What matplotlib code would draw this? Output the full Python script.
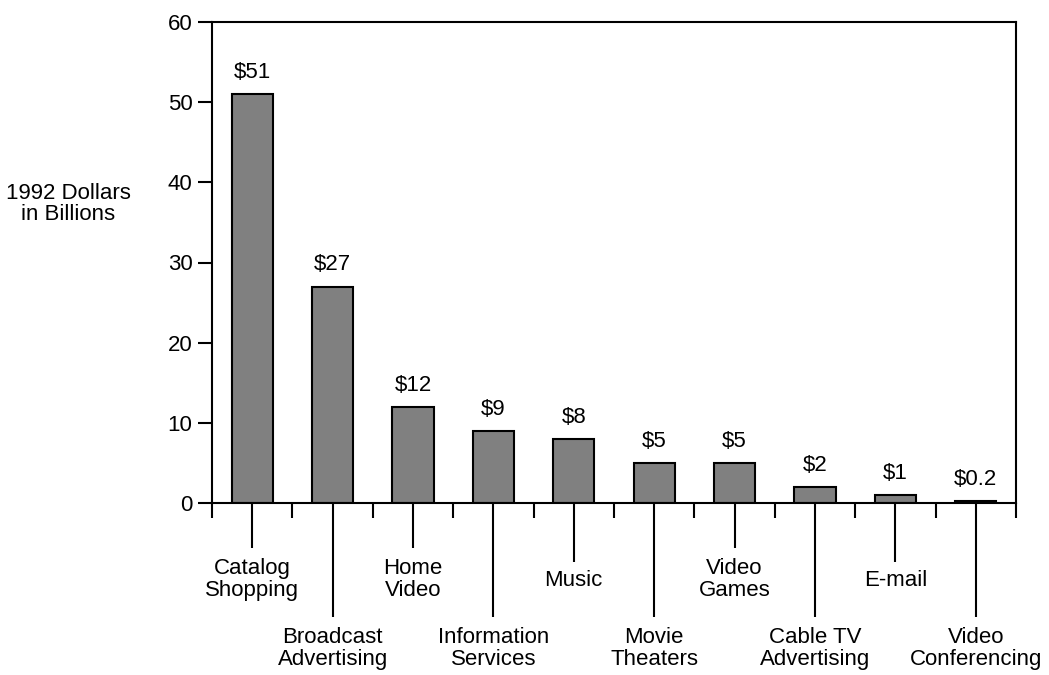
import matplotlib

matplotlib.use("Agg")
import matplotlib.pyplot as plt
import numpy as np

# --- data ---
categories = [
    "Catalog\nShopping",
    "Broadcast\nAdvertising",
    "Home\nVideo",
    "Information\nServices",
    "Music",
    "Movie\nTheaters",
    "Video\nGames",
    "Cable TV\nAdvertising",
    "E-mail",
    "Video\nConferencing",
]
values = [51, 27, 12, 9, 8, 5, 5, 2, 1, 0.2]
value_labels = ["$51", "$27", "$12", "$9", "$8", "$5", "$5", "$2", "$1", "$0.2"]
y_ticks = [0, 10, 20, 30, 40, 50, 60]

plt.rcParams["font.family"] = ["Liberation Sans", "DejaVu Sans"]
FS = 16

W, H, DPI = 1049, 675, 100
fig = plt.figure(figsize=(W / DPI, H / DPI), dpi=DPI)
ax = fig.add_axes([212 / W, 1 - 503 / H, (1016 - 212) / W, (503 - 22) / H])
ax_h = 503 - 22  # axes height in px

x = np.arange(len(categories))
ax.bar(x, values, width=0.51, color="#808080", edgecolor="black", linewidth=1.5)

for xi, v, lab in zip(x, values, value_labels):
    ax.annotate(lab, (xi, v), xytext=(0, 8), textcoords="offset points",
                ha="center", va="bottom", fontsize=FS)

ax.set_xlim(-0.5, len(categories) - 0.5)
ax.set_ylim(0, 60)
ax.set_yticks(y_ticks)
ax.tick_params(axis="y", direction="out", length=10, width=1.5, pad=4, labelsize=FS)

# boundary ticks below the axis, labels placed by hand
ax.set_xticks(np.arange(len(categories) + 1) - 0.5)
ax.set_xticklabels([])
ax.tick_params(axis="x", direction="out", length=11, width=1.5)

for s in ax.spines.values():
    s.set_linewidth(1.5)

# leader lines and category labels
tr = ax.get_xaxis_transform()
for i, name in enumerate(categories):
    single = "\n" not in name
    if i % 2 == 1:
        end_px, text_px, va = 114, 124, "top"
    elif single:
        end_px, text_px, va = 59, 77, "center"
    else:
        end_px, text_px, va = 45, 55, "top"
    ax.plot([i, i], [0, -end_px / ax_h], transform=tr, color="black",
            lw=1.5, clip_on=False, solid_capstyle="butt")
    ax.text(i, -text_px / ax_h, name, transform=tr, ha="center", va=va,
            fontsize=FS, linespacing=1.05)

fig.text(68 / W, 1 - 204 / H, "1992 Dollars\nin Billions", ha="center",
         va="center", fontsize=FS, linespacing=1.05)

fig.savefig("out.png", dpi=DPI)
